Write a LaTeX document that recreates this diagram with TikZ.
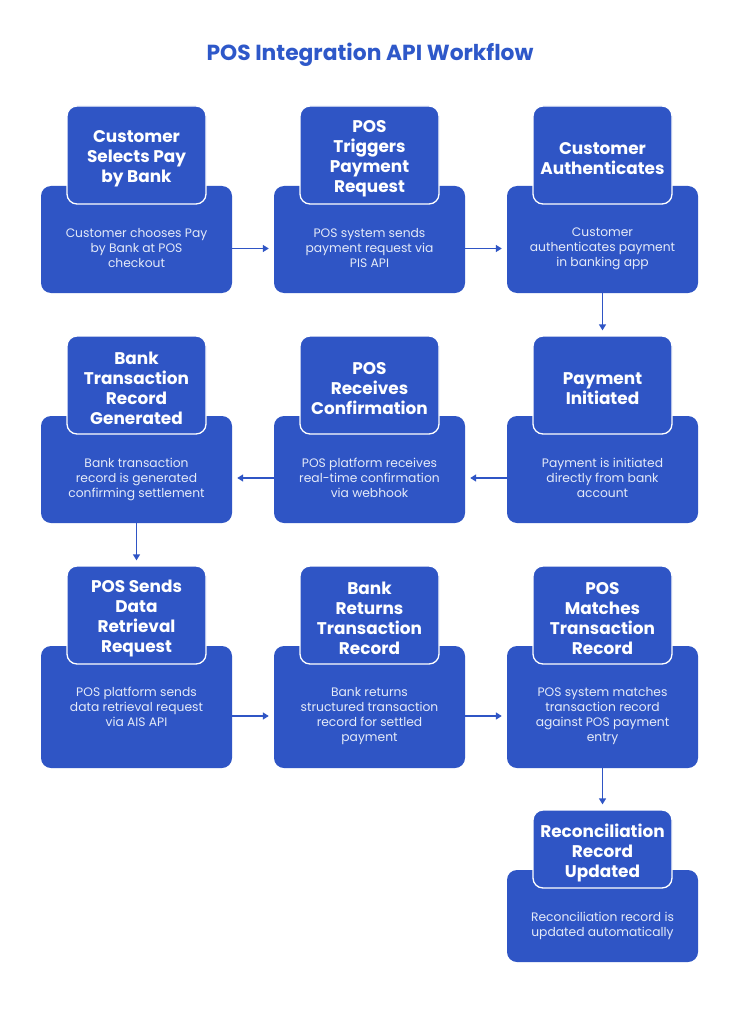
\documentclass[tikz,border=0pt]{standalone}
\usepackage{fontspec}
\setmainfont{Poppins}
\usetikzlibrary{arrows.meta}
\definecolor{boxblue}{RGB}{47,85,197}
\definecolor{titleblue}{RGB}{46,88,201}
\definecolor{bodytxt}{RGB}{228,234,248}
\tikzset{
  lowerbox/.style={fill=boxblue, rounded corners=10pt, minimum width=191pt, inner sep=0pt},
  headbox/.style={fill=boxblue, draw=white, line width=1.3pt, rounded corners=10pt, minimum width=139pt, minimum height=98pt, inner sep=0pt},
  headtext/.style={align=center, text=white, inner sep=0pt, font=\bfseries\fontsize{16.9}{20}\selectfont},
  bodytext/.style={anchor=north, align=center, text=bodytxt, inner sep=0pt, font=\fontsize{12.3}{15}\selectfont},
  arr/.style={draw=boxblue, line width=1.4pt, -{Triangle[length=6pt,width=7pt]}, shorten >=5pt},
}
\begin{document}
\begin{tikzpicture}[x=1pt,y=-1pt]
\useasboundingbox (0,0) rectangle (740,1024);
\fill[white] (0,0) rectangle (740,1024);
\node[text=titleblue, font=\bfseries\fontsize{21.8}{26}\selectfont] (title) at (370,55) {POS Integration API Workflow};

% row 1
\node[lowerbox, minimum height=107pt] (b1) at (136.5,239.5) {};
\node[lowerbox, minimum height=107pt] (b2) at (369.5,239.5) {};
\node[lowerbox, minimum height=107pt] (b3) at (602.5,239.5) {};
\node[headbox] (h1) at (136.5,155) {};
\node[headbox] (h2) at (369.5,155) {};
\node[headbox] (h3) at (602.5,155) {};
\node[headtext] (l1) at ([yshift=-3.5pt]h1.center) {Customer\\Selects Pay\\by Bank};
\node[headtext] (l2) at ([yshift=-3.5pt]h2.center) {POS\\Triggers\\Payment\\Request};
\node[headtext] (l3) at ([yshift=-3.5pt]h3.center) {Customer\\Authenticates};
\node[bodytext] (t1) at (136.5,228) {Customer chooses Pay\\by Bank at POS\\checkout};
\node[bodytext] (t2) at (369.5,228) {POS system sends\\payment request via\\PIS API};
\node[bodytext] (t3) at (602.5,228) {Customer\\authenticates payment\\in banking app};

% row 2
\node[lowerbox, minimum height=107pt] (b4) at (136.5,469.5) {};
\node[lowerbox, minimum height=107pt] (b5) at (369.5,469.5) {};
\node[lowerbox, minimum height=107pt] (b6) at (602.5,469.5) {};
\node[headbox] (h4) at (136.5,385) {};
\node[headbox] (h5) at (369.5,385) {};
\node[headbox] (h6) at (602.5,385) {};
\node[headtext] (l4) at ([yshift=-3.5pt]h4.center) {Bank\\Transaction\\Record\\Generated};
\node[headtext] (l5) at ([yshift=-3.5pt]h5.center) {POS\\Receives\\Confirmation};
\node[headtext] (l6) at ([yshift=-3.5pt]h6.center) {Payment\\Initiated};
\node[bodytext] (t4) at (136.5,458) {Bank transaction\\record is generated\\confirming settlement};
\node[bodytext] (t5) at (369.5,458) {POS platform receives\\real-time confirmation\\via webhook};
\node[bodytext] (t6) at (602.5,458) {Payment is initiated\\directly from bank\\account};

% row 3
\node[lowerbox, minimum height=122pt] (b7) at (136.5,707) {};
\node[lowerbox, minimum height=122pt] (b8) at (369.5,707) {};
\node[lowerbox, minimum height=122pt] (b9) at (602.5,707) {};
\node[headbox] (h7) at (136.5,615) {};
\node[headbox] (h8) at (369.5,615) {};
\node[headbox] (h9) at (602.5,615) {};
\node[headtext] (l7) at ([yshift=-3.5pt]h7.center) {POS Sends\\Data\\Retrieval\\Request};
\node[headtext] (l8) at ([yshift=-3.5pt]h8.center) {Bank\\Returns\\Transaction\\Record};
\node[headtext] (l9) at ([yshift=-3.5pt]h9.center) {POS\\Matches\\Transaction\\Record};
\node[bodytext] (t7) at (136.5,687) {POS platform sends\\data retrieval request\\via AIS API};
\node[bodytext] (t8) at (369.5,687) {Bank returns\\structured transaction\\record for settled\\payment};
\node[bodytext] (t9) at (602.5,687) {POS system matches\\transaction record\\against POS payment\\entry};

% row 4
\node[lowerbox, minimum height=92pt] (b10) at (602.5,916) {};
\node[headbox, minimum height=78pt] (h10) at (602.5,849) {};
\node[headtext] (l10) at ([yshift=-3.5pt]h10.center) {Reconciliation\\Record\\Updated};
\node[bodytext] (t10) at (602.5,912) {Reconciliation record is\\updated automatically};

% connectors
\draw[arr] ([yshift=-9pt]b1.east) -- ([yshift=-9pt]b2.west);
\draw[arr] ([yshift=-9pt]b2.east) -- ([yshift=-9pt]b3.west);
\draw[arr] (b3.south) -- (h6.north);
\draw[arr] ([yshift=-8.5pt]b6.west) -- ([yshift=-8.5pt]b5.east);
\draw[arr] ([yshift=-8.5pt]b5.west) -- ([yshift=-8.5pt]b4.east);
\draw[arr] (b4.south) -- (h7.north);
\draw[arr] ([yshift=-9pt]b7.east) -- ([yshift=-9pt]b8.west);
\draw[arr] ([yshift=-9pt]b8.east) -- ([yshift=-9pt]b9.west);
\draw[arr] (b9.south) -- (h10.north);
\end{tikzpicture}
\end{document}
